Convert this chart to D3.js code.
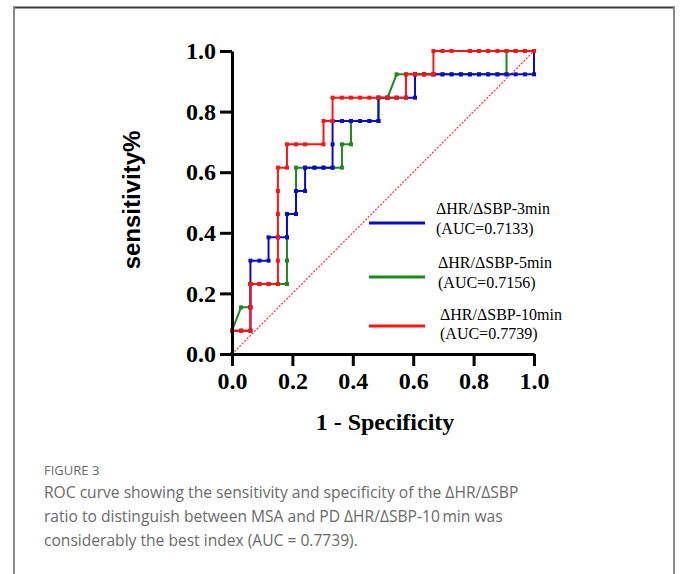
<!DOCTYPE html>
<html>
<head>
<meta charset="utf-8">
<script src="https://cdn.jsdelivr.net/npm/d3@7"></script>
<style>
  body { margin: 0; background: #fff; }
  svg { display: block; }
</style>
</head>
<body>
<svg id="chart" width="681" height="574"></svg>
<script>
// ROC points: [1 - specificity, sensitivity]
const roc3min = [[0,0],[0,.077],[.030,.077],[.061,.077],[.061,.154],[.061,.231],[.061,.308],[.091,.308],[.121,.308],[.121,.385],[.152,.385],[.182,.385],[.182,.462],[.212,.462],[.212,.538],[.242,.538],[.242,.615],[.273,.615],[.303,.615],[.333,.615],[.333,.692],[.333,.769],[.364,.769],[.394,.769],[.424,.769],[.455,.769],[.485,.769],[.485,.846],[.515,.846],[.545,.846],[.576,.846],[.606,.846],[.606,.923],[.636,.923],[.667,.923],[.697,.923],[.727,.923],[.758,.923],[.788,.923],[.818,.923],[.848,.923],[.879,.923],[.909,.923],[.939,.923],[.970,.923],[1,.923],[1,1]];
const roc5min = [[0,0],[0,.077],[.030,.154],[.061,.154],[.061,.231],[.091,.231],[.121,.231],[.152,.231],[.182,.231],[.182,.308],[.182,.385],[.182,.462],[.212,.462],[.212,.538],[.212,.615],[.242,.615],[.273,.615],[.303,.615],[.333,.615],[.364,.615],[.364,.692],[.394,.692],[.394,.769],[.424,.769],[.455,.769],[.485,.769],[.485,.846],[.515,.846],[.545,.923],[.576,.923],[.606,.923],[.636,.923],[.667,.923],[.697,.923],[.727,.923],[.758,.923],[.788,.923],[.818,.923],[.848,.923],[.879,.923],[.909,.923],[.909,1],[.939,1],[.970,1],[1,1]];
const roc10min = [[0,0],[0,.077],[.030,.077],[.061,.077],[.061,.154],[.061,.231],[.091,.231],[.121,.231],[.152,.231],[.152,.308],[.152,.385],[.152,.462],[.152,.538],[.152,.615],[.182,.615],[.182,.692],[.212,.692],[.242,.692],[.303,.692],[.303,.769],[.333,.769],[.333,.846],[.364,.846],[.394,.846],[.424,.846],[.455,.846],[.485,.846],[.515,.846],[.545,.846],[.576,.846],[.576,.923],[.606,.923],[.636,.923],[.667,.923],[.667,1],[.697,1],[.727,1],[.788,1],[.818,1],[.848,1],[.879,1],[.909,1],[.939,1],[.970,1],[1,1]];

const seriesNames = ["ΔHR/ΔSBP-3min", "ΔHR/ΔSBP-5min", "ΔHR/ΔSBP-10min"];
const aucLabels = ["(AUC=0.7133)", "(AUC=0.7156)", "(AUC=0.7739)"];
const tickValues = [0, 0.2, 0.4, 0.6, 0.8, 1.0];
const captionTitle = "FIGURE 3";
const captionLines = [
    "ROC curve showing the sensitivity and specificity of the ΔHR/ΔSBP",
    "ratio to distinguish between MSA and PD ΔHR/ΔSBP-10\u2009min was",
    "considerably the best index (AUC = 0.7739)."
];

const colors = ["#0c0cc8", "#1c8a1c", "#ff1414"];
const serif = "'Liberation Serif', 'Times New Roman', serif";

const svg = d3.select("#chart");

// card frame
svg.append("line").attr("x1", 13).attr("x2", 675).attr("y1", 7.5).attr("y2", 7.5)
    .attr("stroke", "#3c3c3c").attr("stroke-width", 2);
svg.append("line").attr("x1", 14).attr("x2", 14).attr("y1", 7).attr("y2", 574)
    .attr("stroke", "#8a8a8a").attr("stroke-width", 2);
svg.append("line").attr("x1", 674).attr("x2", 674).attr("y1", 7).attr("y2", 574)
    .attr("stroke", "#8a8a8a").attr("stroke-width", 2);

const x = d3.scaleLinear().domain([0, 1]).range([232, 534]);
const y = d3.scaleLinear().domain([0, 1]).range([354, 51]);

// reference diagonal
svg.append("line")
    .attr("x1", x(0)).attr("y1", y(0)).attr("x2", x(1)).attr("y2", y(1))
    .attr("stroke", "#ff3030").attr("stroke-width", 1.2)
    .attr("stroke-dasharray", "2,1.5");

const line = d3.line().x(d => x(d[0])).y(d => y(d[1]));

// green first, blue over it, red on top
const drawOrder = [1, 0, 2];
const allSeries = [roc3min, roc5min, roc10min];

drawOrder.forEach(k => {
    const g = svg.append("g");
    g.append("path")
        .datum(allSeries[k])
        .attr("d", line)
        .attr("fill", "none")
        .attr("stroke", colors[k])
        .attr("stroke-width", 2);
    g.selectAll("rect")
        .data(allSeries[k])
        .enter()
        .append("rect")
        .attr("x", d => x(d[0]) - 2)
        .attr("y", d => y(d[1]) - 2)
        .attr("width", 4)
        .attr("height", 4)
        .attr("fill", colors[k]);
});

// axes
const yAxis = svg.append("g")
    .attr("transform", `translate(${x(0)},0)`)
    .call(d3.axisLeft(y).tickValues(tickValues).tickFormat(d3.format(".1f")).tickSize(12).tickSizeOuter(0).tickPadding(4));
const xAxis = svg.append("g")
    .attr("transform", `translate(0,${y(0)})`)
    .call(d3.axisBottom(x).tickValues(tickValues).tickFormat(d3.format(".1f")).tickSize(12).tickSizeOuter(0).tickPadding(6));

[xAxis, yAxis].forEach(a => {
    a.selectAll("path, line").attr("stroke", "#000").attr("stroke-width", 3);
    a.selectAll("text")
        .attr("fill", "#000")
        .style("font-family", serif)
        .style("font-weight", "bold")
        .style("font-size", "24px");
});

svg.append("text")
    .attr("x", 385).attr("y", 430)
    .attr("text-anchor", "middle")
    .style("font-family", serif).style("font-weight", "bold").style("font-size", "24px")
    .text("1 - Specificity");

svg.append("text")
    .attr("transform", "translate(140,200) rotate(-90)")
    .attr("text-anchor", "middle")
    .style("font-family", "'Liberation Sans', Arial, sans-serif").style("font-weight", "bold").style("font-size", "24px")
    .text("sensitivity%");

// legend
const legendY = [223, 277, 326];
const legendTextX = [436, 438, 440];
const legendBase = [[214, 234], [268, 288], [320, 339]];
seriesNames.forEach((name, k) => {
    svg.append("line")
        .attr("x1", 369).attr("x2", 425)
        .attr("y1", legendY[k]).attr("y2", legendY[k])
        .attr("stroke", colors[k]).attr("stroke-width", 3);
    svg.append("text")
        .attr("x", legendTextX[k]).attr("y", legendBase[k][0])
        .style("font-family", serif).style("font-size", "16px")
        .text(name);
    svg.append("text")
        .attr("x", legendTextX[k]).attr("y", legendBase[k][1])
        .style("font-family", serif).style("font-size", "16px")
        .text(aucLabels[k]);
});

// caption
svg.append("text")
    .attr("x", 44).attr("y", 475)
    .attr("fill", "#6a6a6a")
    .style("font-family", "'Open Sans', sans-serif").style("font-size", "13px")
    .text(captionTitle);
captionLines.forEach((t, i) => {
    svg.append("text")
        .attr("x", 44).attr("y", 498 + i * 24)
        .attr("fill", "#6a6a6a")
        .style("font-family", "'Open Sans', sans-serif").style("font-size", "15.6px")
        .text(t);
});
</script>
</body>
</html>
